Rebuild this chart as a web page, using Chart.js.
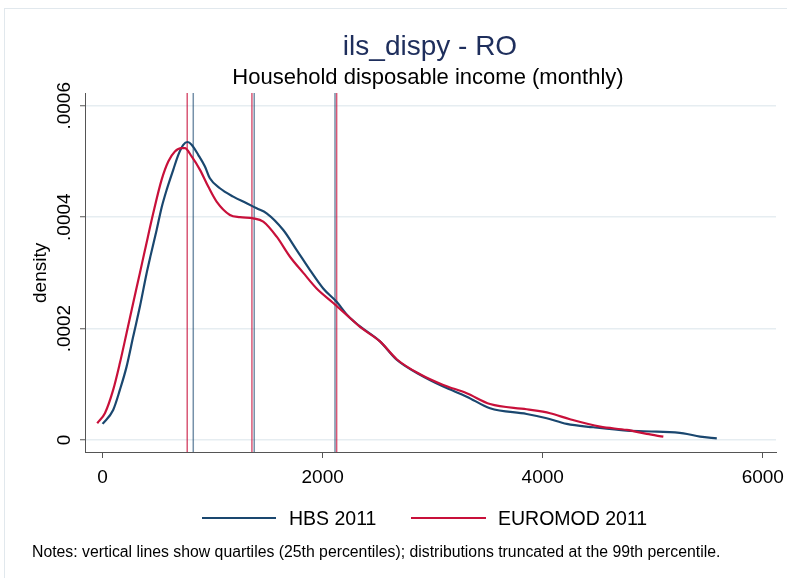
<!DOCTYPE html>
<html>
<head>
<meta charset="utf-8">
<script src="https://cdn.jsdelivr.net/npm/chart.js@4.4.1/dist/chart.umd.min.js"></script>
<style>
  html, body { margin: 0; padding: 0; background: #ffffff; }
  #wrap { width: 787px; height: 578px; position: relative; }
</style>
</head>
<body>
<div id="wrap"><canvas id="chart" width="787" height="578"></canvas></div>
<script>
// Kernel density of monthly household disposable income, Romania 2011
const hbsIncome = [0, 96, 157, 218, 278, 339, 400, 436, 491, 536, 582, 642, 688, 733, 773, 809, 869, 930, 975, 1066, 1187, 1309, 1400, 1491, 1642, 1764, 1885, 2005, 2127, 2233, 2339, 2521, 2673, 2885, 3096, 3309, 3521, 3854, 4036, 4218, 4460, 4764, 5036, 5279, 5430, 5582];
const hbsDensity = [0.0000288, 0.0000539, 0.0000899, 0.0001317, 0.0001856, 0.0002395, 0.0002995, 0.000331, 0.000377, 0.000417, 0.000449, 0.000485, 0.000512, 0.00053, 0.000535, 0.00053, 0.000512, 0.000491, 0.00047, 0.000452, 0.000437, 0.000425, 0.000416, 0.000407, 0.000377, 0.000341, 0.000305, 0.000272, 0.000248, 0.000222, 0.000204, 0.000177, 0.000144, 0.000117, 0.0000958, 0.0000778, 0.000057, 0.0000467, 0.000039, 0.0000288, 0.0000228, 0.0000168, 0.000015, 0.000012, 0.0000059, 0.000003];

const euromodIncome = [-49, 21, 96, 157, 218, 278, 339, 385, 460, 536, 597, 657, 718, 748, 809, 885, 960, 1036, 1157, 1248, 1369, 1460, 1582, 1703, 1824, 1945, 2096, 2233, 2339, 2521, 2673, 2885, 3096, 3309, 3521, 3854, 4067, 4248, 4521, 4764, 4945, 5096];
const euromodDensity = [0.00003, 0.000048, 0.0000899, 0.000138, 0.000192, 0.000246, 0.0003, 0.000341, 0.000407, 0.000467, 0.0005, 0.000518, 0.000524, 0.000524, 0.000509, 0.000485, 0.000455, 0.000428, 0.000404, 0.0004, 0.000398, 0.000392, 0.000365, 0.000329, 0.0003, 0.000272, 0.000246, 0.000222, 0.000203, 0.000177, 0.000145, 0.000118, 0.0000988, 0.0000839, 0.0000645, 0.0000551, 0.000048, 0.0000372, 0.0000239, 0.000018, 0.0000108, 0.0000059];

// quartile cut points (25th, 50th, 75th percentiles)
const hbsQuartiles = [824, 1378, 2112];
const euromodQuartiles = [769, 1357, 2127];

const seriesLabels = ['HBS 2011', 'EUROMOD 2011'];
const xTickValues = [0, 2000, 4000, 6000];
const yTickValues = [0, 0.0002, 0.0004, 0.0006];
const yTickLabels = ['0', '.0002', '.0004', '.0006'];

const titleText = 'ils_dispy - RO';
const subtitleText = 'Household disposable income (monthly)';
const yAxisTitle = 'density';
const noteText = 'Notes: vertical lines show quartiles (25th percentiles); distributions truncated at the 99th percentile.';

const BLUE = '#1a476f';
const RED = '#c8103a';
const FONT = '"Liberation Sans", Arial, Helvetica, sans-serif';

const toPoints = (xs, ys) => xs.map((x, i) => ({ x: x, y: ys[i] }));

// quartile markers, drawn underneath the density curves
const quartileLines = {
  id: 'quartileLines',
  beforeDatasetsDraw(chart) {
    const { ctx, chartArea, scales } = chart;
    const groups = [
      { values: hbsQuartiles, color: 'rgba(26,71,111,0.6)' },
      { values: euromodQuartiles, color: 'rgba(200,16,58,0.7)' }
    ];
    ctx.save();
    ctx.lineWidth = 1.5;
    groups.forEach(g => {
      ctx.strokeStyle = g.color;
      g.values.forEach(v => {
        const px = scales.x.getPixelForValue(v);
        ctx.beginPath();
        ctx.moveTo(px, chartArea.top);
        ctx.lineTo(px, chartArea.bottom);
        ctx.stroke();
      });
    });
    ctx.restore();
  }
};

// titles, tick labels, legend and note
const textLayer = {
  id: 'textLayer',
  afterDraw(chart) {
    const { ctx, scales } = chart;
    ctx.save();

    // faint outer frame of the graph region
    ctx.strokeStyle = '#e1e8ed';
    ctx.lineWidth = 1;
    ctx.strokeRect(4.5, 8.5, 900, 700);

    ctx.textBaseline = 'alphabetic';

    ctx.fillStyle = '#1e2e5c';
    ctx.font = '28px ' + FONT;
    ctx.textAlign = 'center';
    ctx.fillText(titleText, 430, 55);

    ctx.fillStyle = '#000000';
    ctx.font = '22px ' + FONT;
    ctx.fillText(subtitleText, 428, 84);

    // x tick labels
    ctx.font = '19px ' + FONT;
    xTickValues.forEach(v => {
      ctx.fillText(String(v), scales.x.getPixelForValue(v), 483);
    });

    // y tick labels, rotated
    yTickValues.forEach((v, i) => {
      const py = scales.y.getPixelForValue(v);
      ctx.save();
      ctx.translate(70, py);
      ctx.rotate(-Math.PI / 2);
      ctx.textAlign = 'center';
      ctx.fillText(yTickLabels[i], 0, 0);
      ctx.restore();
    });

    // y axis title
    ctx.save();
    ctx.translate(46, scales.y.getPixelForValue(0.0003));
    ctx.rotate(-Math.PI / 2);
    ctx.textAlign = 'center';
    ctx.fillText(yAxisTitle, 0, 0);
    ctx.restore();

    // legend
    const ds = chart.data.datasets;
    const legendItems = [
      { ds: ds[0], x0: 202, x1: 276, tx: 289 },
      { ds: ds[1], x0: 411, x1: 486, tx: 498 }
    ];
    ctx.font = '19.5px ' + FONT;
    ctx.textAlign = 'left';
    legendItems.forEach(it => {
      ctx.strokeStyle = it.ds.borderColor;
      ctx.lineWidth = 2;
      ctx.beginPath();
      ctx.moveTo(it.x0, 518);
      ctx.lineTo(it.x1, 518);
      ctx.stroke();
      ctx.fillStyle = '#000000';
      ctx.fillText(it.ds.label, it.tx, 525);
    });

    // note
    ctx.font = '15.8px ' + FONT;
    ctx.fillText(noteText, 32, 557);

    ctx.restore();
  }
};

new Chart(document.getElementById('chart'), {
  type: 'line',
  data: {
    datasets: [
      {
        label: seriesLabels[0],
        data: toPoints(hbsIncome, hbsDensity),
        borderColor: BLUE,
        borderWidth: 2.2,
        pointRadius: 0,
        fill: false,
        cubicInterpolationMode: 'monotone',
        order: 1
      },
      {
        label: seriesLabels[1],
        data: toPoints(euromodIncome, euromodDensity),
        borderColor: RED,
        borderWidth: 2.2,
        pointRadius: 0,
        fill: false,
        cubicInterpolationMode: 'monotone',
        order: 0
      }
    ]
  },
  options: {
    responsive: false,
    animation: false,
    events: [],
    layout: { padding: { left: 0, top: 93, right: 11, bottom: 86 } },
    plugins: { legend: { display: false }, tooltip: { enabled: false }, title: { display: false } },
    scales: {
      x: {
        type: 'linear',
        min: -160,
        max: 6120,
        afterBuildTicks: s => { s.ticks = xTickValues.map(v => ({ value: v })); },
        afterFit: s => { s.height = 40; },
        ticks: { display: false },
        grid: { drawOnChartArea: false, drawTicks: true, tickLength: 6, tickColor: '#555555', tickWidth: 1 },
        border: { display: true, color: '#555555', width: 1 }
      },
      y: {
        type: 'linear',
        min: -0.0000216,
        max: 0.000623,
        afterBuildTicks: s => { s.ticks = yTickValues.map(v => ({ value: v })); },
        afterFit: s => { s.width = 85; },
        ticks: { display: false },
        grid: { color: '#e6edf1', lineWidth: 1.5, drawTicks: true, tickLength: 5, tickColor: '#555555', tickWidth: 1 },
        border: { display: true, color: '#555555', width: 1 }
      }
    }
  },
  plugins: [quartileLines, textLayer]
});
</script>
</body>
</html>
